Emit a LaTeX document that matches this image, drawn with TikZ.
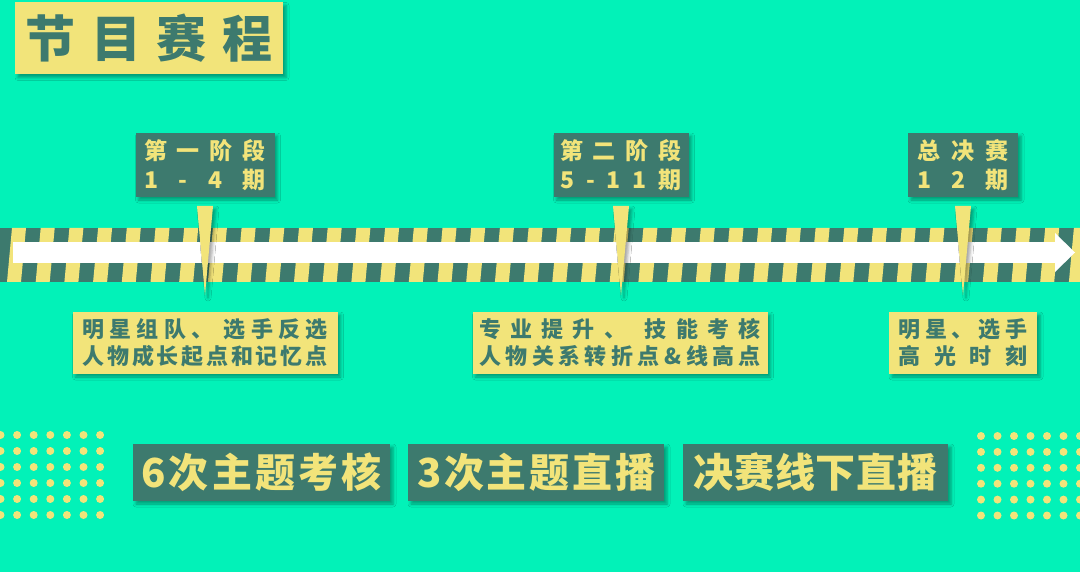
\documentclass[tikz,border=0pt]{standalone}
\usepackage{fontspec}
\newfontfamily\cjk{Noto Sans CJK SC}
\usetikzlibrary{shadows.blur}
\definecolor{bgmint}{RGB}{2,242,184}
\definecolor{boardteal}{RGB}{61,122,110}
\definecolor{markyellow}{RGB}{242,228,122}
\makeatletter
\def\spread@go#1{\@tfor\spread@c:=#1\do{\spread@sep\spread@c\def\spread@sep{\hfill}}}
\newcommand\spread[2]{\makebox[#1]{\def\spread@sep{}\edef\spread@list{#2}\expandafter\spread@go\expandafter{\spread@list}}}
\makeatother
\begin{document}
\begin{tikzpicture}[x=1pt,y=-1pt,
    boxshadow/.style={blur shadow={shadow xshift=3pt,shadow yshift=-3pt,shadow blur radius=3pt,shadow opacity=35}},
    yellowbox/.style={fill=markyellow,text=boardteal,inner sep=0pt,align=center,boxshadow},
    tealbox/.style={fill=boardteal,text=markyellow,inner sep=0pt,align=center,boxshadow}]
  \useasboundingbox (0,0) rectangle (1080,572);
  \fill[bgmint] (0,0) rectangle (1080,572);
  \node[yellowbox,minimum width=268pt,minimum height=72pt,font=\cjk\bfseries\fontsize{50}{60}\selectfont] (title) at (149,38.5) {\spread{247pt}{节目赛程}};
  \fill[boardteal] (0,228) rectangle (1080,282);
  \begin{scope}
    \clip (0,228) rectangle (1080,282);
    \foreach \i in {0,...,37}
      \fill[markyellow] ({7+28.7*\i},282) -- ++(14,0) -- ++(5,-54) -- ++(-14,0) -- cycle;
  \end{scope}
  \fill[white] (13,242) rectangle (1055,263);
  \fill[white] (1055,233) -- (1075,252.5) -- (1055,272) -- cycle;
  \foreach \n/\x/\w/\tw/\la/\lb in {
      1/205/139/122/第一阶段/1-4期,
      2/621/135/122/第二阶段/5-11期,
      3/963/110/91/总决赛/12期} {
    \node[tealbox,minimum width=\w pt,minimum height=64pt,font=\cjk\bfseries\fontsize{23}{29}\selectfont] (stage\n) at (\x,165) {\spread{\tw pt}{\la}\\\spread{\tw pt}{\lb}};
    \fill[markyellow,boxshadow] (\x-8,206) -- (\x+8,206) -- (\x,295) -- cycle;
  }
  \foreach \n/\x/\w/\tw/\la/\lb in {
      1/205/265/245/明星组队、{}选手反选/人物成长起点和记忆点,
      2/620/295/282/专业提升、{}技能考核/人物关系转折点\&线高点,
      3/963/148/129/明星、选手/高光时刻}
    \node[yellowbox,minimum width=\w pt,minimum height=62pt,font=\cjk\bfseries\fontsize{22}{27}\selectfont] (note\n) at (\x,343) {\spread{\tw pt}{\la}\\\spread{\tw pt}{\lb}};
  \foreach \n/\x/\w/\tw/\lt in {
      1/261.5/257/240/6次主题考核,
      2/536/256/238/3次主题直播,
      3/815.5/265/244/决赛线下直播}
    \node[tealbox,minimum width=\w pt,minimum height=57pt,font=\cjk\bfseries\fontsize{40}{48}\selectfont] (show\n) at (\x,472.5) {\spread{\tw pt}{\lt}};
  \foreach \i in {0,...,6}
    \foreach \j in {0,...,5} {
      \fill[markyellow] ({0.5+16.6*\i},{435+16*\j}) circle (4pt);
      \fill[markyellow] ({981+16.5*\i},{436+15.9*\j}) circle (4pt);
    }
\end{tikzpicture}
\end{document}
